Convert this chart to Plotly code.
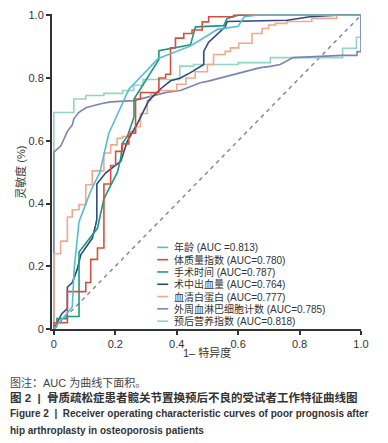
import plotly.graph_objects as go

# ---------------- data (FPR = 1-specificity, TPR = sensitivity) ----------------
names = ["年龄", "体质量指数", "手术时间", "术中出血量", "血清白蛋白", "外周血淋巴细胞计数", "预后营养指数"]
auc_labels = ["(AUC =0.813)", "(AUC=0.780)", "(AUC=0.787)", "(AUC=0.764)", "(AUC=0.777)", "(AUC=0.785)", "(AUC=0.818)"]

fpr_age = [0, 0.06, 0.066, 0.082, 0.12, 0.15, 0.179, 0.21, 0.245, 0.34, 0.44, 0.47, 0.533, 0.6, 0.62, 0.66, 1.0]
tpr_age = [0, 0.07, 0.19, 0.342, 0.44, 0.5, 0.624, 0.69, 0.765, 0.862, 0.9, 0.917, 0.955, 0.965, 0.995, 1.0, 1.0]

fpr_bmi = [0, 0, 0.044, 0.044, 0.104, 0.104, 0.12, 0.12, 0.142, 0.142, 0.163, 0.163, 0.185, 0.185, 0.201, 0.201,
           0.223, 0.223, 0.244, 0.244, 0.266, 0.266, 0.282, 0.282, 0.342, 0.342, 0.364, 0.364, 0.38, 0.38, 0.396,
           0.396, 0.423, 0.423, 0.45, 0.45, 0.483, 0.483, 0.504, 0.504, 0.585, 0.585, 1.0]
tpr_bmi = [0, 0.02, 0.02, 0.119, 0.119, 0.148, 0.148, 0.222, 0.222, 0.258, 0.258, 0.462, 0.462, 0.521, 0.521, 0.566,
           0.566, 0.59, 0.59, 0.624, 0.624, 0.733, 0.733, 0.754, 0.754, 0.80, 0.80, 0.812, 0.812, 0.896, 0.896,
           0.927, 0.927, 0.942, 0.942, 0.953, 0.953, 0.979, 0.979, 0.995, 0.995, 1.0, 1.0]

fpr_op = [0, 0.01, 0.01, 0.044, 0.044, 0.082, 0.082, 0.142, 0.163, 0.19, 0.207, 0.218, 0.223, 0.239, 0.261, 0.261,
          0.342, 0.342, 0.445, 0.461, 0.553, 0.564, 0.6, 1.0]
tpr_op = [0, 0.01, 0.033, 0.033, 0.04, 0.04, 0.245, 0.321, 0.415, 0.467, 0.5, 0.545, 0.592, 0.613, 0.676, 0.733,
          0.859, 0.887, 0.906, 0.963, 0.967, 0.99, 1.0, 1.0]

fpr_blood = [0, 0.026, 0.044, 0.044, 0.06, 0.076, 0.088, 0.104, 0.125, 0.136, 0.14, 0.14, 0.169, 0.218, 0.239,
             0.272, 0.293, 0.309, 0.347, 0.38, 0.412, 0.445, 0.488, 0.488, 0.504, 0.558, 0.564, 0.759, 0.834, 0.92, 1.0]
tpr_blood = [0, 0.049, 0.065, 0.133, 0.148, 0.19, 0.237, 0.258, 0.289, 0.331, 0.35, 0.462, 0.498, 0.535, 0.598,
             0.655, 0.697, 0.728, 0.765, 0.791, 0.80, 0.817, 0.843, 0.885, 0.914, 0.963, 0.98, 0.984, 0.995, 1.0, 1.0]

fpr_alb = [0, 0, 0.022, 0.022, 0.044, 0.044, 0.06, 0.06, 0.082, 0.082, 0.104, 0.104, 0.125, 0.125, 0.163, 0.163,
           0.185, 0.185, 0.206, 0.206, 0.223, 0.223, 0.25, 0.25, 0.266, 0.266, 0.282, 0.282, 0.304, 0.304, 0.315,
           0.315, 0.342, 0.342, 0.40, 0.40, 0.43, 0.43, 0.46, 0.46, 0.50, 0.50, 0.52, 0.52, 0.558, 0.558, 0.575,
           0.575, 0.602, 0.602, 0.645, 0.645, 0.678, 0.678, 0.699, 0.699, 0.721, 0.721, 0.759, 0.759, 0.84, 0.84,
           0.921, 0.921, 1.0]
tpr_alb = [0, 0.24, 0.24, 0.28, 0.28, 0.357, 0.357, 0.38, 0.38, 0.397, 0.397, 0.46, 0.46, 0.504, 0.504, 0.561,
           0.561, 0.587, 0.587, 0.608, 0.608, 0.613, 0.613, 0.629, 0.629, 0.645, 0.645, 0.687, 0.687, 0.728, 0.728,
           0.751, 0.751, 0.76, 0.76, 0.78, 0.78, 0.80, 0.80, 0.82, 0.82, 0.843, 0.843, 0.875, 0.875, 0.885, 0.885,
           0.896, 0.896, 0.911, 0.911, 0.942, 0.942, 0.958, 0.958, 0.969, 0.969, 0.974, 0.974, 0.98, 0.98, 0.99,
           0.99, 1.0, 1.0]

fpr_lym = [0, 0, 0.023, 0.039, 0.044, 0.06, 0.065, 0.081, 0.104, 0.153, 0.185, 0.26, 0.37, 0.412, 0.477, 0.503,
           0.565, 0.607, 0.672, 0.705, 0.737, 0.779, 0.834, 0.883, 0.938, 0.987, 0.987, 1.0, 1.0]
tpr_lym = [0, 0.564, 0.584, 0.618, 0.63, 0.65, 0.67, 0.69, 0.705, 0.718, 0.724, 0.728, 0.755, 0.76, 0.785, 0.79,
           0.806, 0.817, 0.833, 0.837, 0.843, 0.865, 0.868, 0.871, 0.872, 0.872, 0.884, 0.884, 1.0]

fpr_pni = [0, 0, 0.065, 0.065, 0.104, 0.104, 0.163, 0.163, 0.224, 0.224, 0.26, 0.26, 0.29, 0.29, 0.41, 0.41, 0.455,
           0.455, 0.6, 0.6, 0.705, 0.705, 0.94, 0.94, 0.985, 0.985, 1.0, 1.0]
tpr_pni = [0, 0.69, 0.69, 0.733, 0.733, 0.744, 0.744, 0.751, 0.751, 0.76, 0.76, 0.777, 0.777, 0.795, 0.795, 0.838,
           0.838, 0.843, 0.843, 0.849, 0.849, 0.865, 0.865, 0.895, 0.895, 0.93, 0.93, 1.0]

ref_x = [0, 1]
ref_y = [0, 1]

x_ticks = [0, 0.2, 0.4, 0.6, 0.8, 1.0]
x_ticktext = ["0", "0.2", "0.4", "0.6", "0.8", "1.0"]
y_ticks = [0, 0.2, 0.4, 0.6, 0.8, 1.0]
y_ticktext = ["0", "0.2", "0.4", "0.6", "0.8", "1.0"]

colors = ["#55bcd8", "#d5503c", "#1c9a7e", "#2f4a7d", "#f4a78a", "#7b84b4", "#93d6c4"]

series_x = [fpr_age, fpr_bmi, fpr_op, fpr_blood, fpr_alb, fpr_lym, fpr_pni]
series_y = [tpr_age, tpr_bmi, tpr_op, tpr_blood, tpr_alb, tpr_lym, tpr_pni]

FONT = "Liberation Sans, Noto Sans CJK SC, sans-serif"

fig = go.Figure()
fig.add_trace(go.Scatter(x=ref_x, y=ref_y, mode="lines",
                         line=dict(color="#8a8a8a", width=1.5, dash="4px,4px"), showlegend=False))
for i in reversed(range(len(names))):
    fig.add_trace(go.Scatter(x=series_x[i], y=series_y[i], mode="lines", name=names[i],
                             line=dict(color=colors[i], width=1.6), showlegend=False))

# plot geometry
L, R_, T, B = 51.5, 26.7, 8.7, 114
W, H = 388, 443
pw = W - L - R_
ph = H - T - B

def px_x(px):
    return (px - L) / pw

def px_y(py):
    return (H - B - py) / ph

annotations = []
shapes = []
# legend
leg_y0 = 246
for i, (n, a) in enumerate(zip(names, auc_labels)):
    py = leg_y0 + i * 12.5
    shapes.append(dict(type="line", xref="paper", yref="paper", x0=px_x(157), x1=px_x(168),
                       y0=px_y(py), y1=px_y(py), line=dict(color=colors[i], width=1.6)))
    annotations.append(dict(x=px_x(172), y=px_y(py), xref="paper", yref="paper", xanchor="left",
                            yanchor="middle", showarrow=False, text=f"{n} {a}",
                            font=dict(family=FONT, size=10, color="#333")))
# axis titles
annotations.append(dict(x=px_x(207), y=px_y(362), xref="paper", yref="paper", showarrow=False,
                        text="1– 特异度", font=dict(family=FONT, size=11, color="#333")))
annotations.append(dict(x=px_x(12), y=px_y(170), xref="paper", yref="paper", showarrow=False,
                        text="灵敏度 (%)", textangle=-90, font=dict(family=FONT, size=11, color="#333")))
# captions
annotations.append(dict(x=px_x(7), y=px_y(383), xref="paper", yref="paper", xanchor="left", yanchor="middle",
                        showarrow=False, text="图注：AUC 为曲线下面积。",
                        font=dict(family=FONT, size=11, color="#444")))
annotations.append(dict(x=px_x(7), y=px_y(399), xref="paper", yref="paper", xanchor="left", yanchor="middle",
                        showarrow=False, text="<b>图 2  |  骨质疏松症患者髋关节置换预后不良的受试者工作特征曲线图</b>",
                        font=dict(family=FONT, size=11.5, color="#333")))
annotations.append(dict(x=px_x(7), y=px_y(415), xref="paper", yref="paper", xanchor="left", yanchor="middle",
                        showarrow=False,
                        text="<b>Figure 2  |  Receiver operating characteristic curves of poor prognosis after</b>",
                        font=dict(family="Liberation Sans, sans-serif", size=10, color="#333")))
annotations.append(dict(x=px_x(7), y=px_y(432), xref="paper", yref="paper", xanchor="left", yanchor="middle",
                        showarrow=False, text="<b>hip arthroplasty in osteoporosis patients</b>",
                        font=dict(family="Liberation Sans, sans-serif", size=10, color="#333")))

axis_common = dict(showgrid=False, zeroline=False, showline=True, linecolor="#333", linewidth=2,
                   ticks="outside", ticklen=4, tickwidth=1.5, tickcolor="#333",
                   tickfont=dict(family=FONT, size=11, color="#333"))

fig.update_layout(
    width=W, height=H,
    margin=dict(l=L, r=R_, t=T, b=B, pad=0),
    paper_bgcolor="white", plot_bgcolor="white",
    showlegend=False,
    xaxis=dict(range=[-0.006, 1.0], tickvals=x_ticks, ticktext=x_ticktext, **axis_common),
    yaxis=dict(range=[0, 1.004], tickvals=y_ticks, ticktext=y_ticktext, **axis_common),
    annotations=annotations, shapes=shapes,
)

fig.write_html("out.html", config={"displayModeBar": False},
               post_script="document.body.style.margin='0';document.body.style.padding='0';"
                           "document.documentElement.style.overflow='hidden';")
